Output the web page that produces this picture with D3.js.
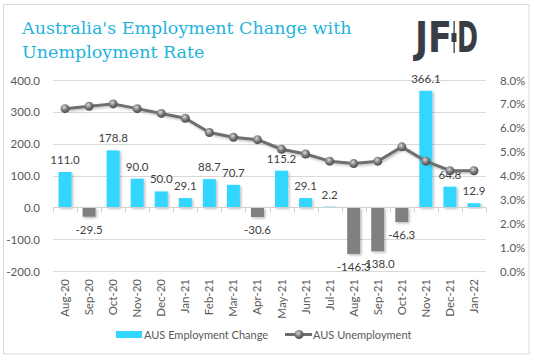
<!DOCTYPE html>
<html>
<head>
<meta charset="utf-8">
<script src="https://cdn.jsdelivr.net/npm/d3@7"></script>
<style>
  body { margin: 0; background: #fff; }
  svg { display: block; }
  text { font-family: Lato, "Open Sans", sans-serif; }
</style>
</head>
<body>
<svg id="chart" width="534" height="360"></svg>
<script>
// data
var months = ["Aug-20","Sep-20","Oct-20","Nov-20","Dec-20","Jan-21","Feb-21","Mar-21","Apr-21",
  "May-21","Jun-21","Jul-21","Aug-21","Sep-21","Oct-21","Nov-21","Dec-21","Jan-22"];
var employment = [111.0,-29.5,178.8,90.0,50.0,29.1,88.7,70.7,-30.6,115.2,29.1,2.2,-146.3,-138.0,-46.3,366.1,64.8,12.9];
var unemployment = [6.8,6.9,7.0,6.8,6.6,6.4,5.8,5.6,5.5,5.1,4.9,4.6,4.5,4.6,5.2,4.6,4.2,4.2];
var leftTicks = [-200,-100,0,100,200,300,400];
var rightTicks = [0,1,2,3,4,5,6,7,8];

var svg = d3.select("#chart");

var margin = {left: 53, right: 48, top: 80, bottom: 89};
var W = 534, H = 360;

// plain hyphen for negatives, like the source
var fmt = d3.formatLocale({decimal: ".", thousands: ",", grouping: [3], currency: ["", ""], minus: "-"}).format(".1f");

var x = d3.scaleBand()
    .domain(months)
    .range([margin.left, W - margin.right])
    .paddingInner(0.46)
    .paddingOuter(0.23);

var y = d3.scaleLinear().domain([-200, 400]).range([H - margin.bottom, margin.top]);
var y2 = d3.scaleLinear().domain([0, 8]).range([H - margin.bottom, margin.top]);

var defs = svg.append("defs");
var f = defs.append("filter").attr("id", "shadow").attr("x", "-30%").attr("y", "-30%").attr("width", "160%").attr("height", "160%");
f.append("feDropShadow").attr("dx", 1.5).attr("dy", 1.5).attr("stdDeviation", 1)
  .attr("flood-color", "#000").attr("flood-opacity", 0.25);

var g = defs.append("radialGradient").attr("id", "ball").attr("cx", "40%").attr("cy", "35%").attr("r", "65%");
g.append("stop").attr("offset", "0%").attr("stop-color", "#d8d8d8");
g.append("stop").attr("offset", "55%").attr("stop-color", "#7a7a7a");
g.append("stop").attr("offset", "100%").attr("stop-color", "#4a4a4a");

// frame
svg.append("rect")
    .attr("x", 3.5).attr("y", 4.5).attr("width", 525.5).attr("height", 349.5)
    .attr("fill", "#fff").attr("stroke", "#d9d9d9");

// title
var title = svg.append("text")
    .style("font-family", "'DejaVu Serif', serif")
    .style("font-size", "17.5px")
    .attr("fill", "#1fb4dc");
title.append("tspan").attr("x", 22).attr("y", 34).text("Australia's Employment Change with");
title.append("tspan").attr("x", 22).attr("y", 58).text("Unemployment Rate");

// logo
var logo = svg.append("g").attr("fill", "#383d45");
logo.append("text").attr("x", 415).attr("y", 52)
    .style("font-family", "'DejaVu Sans', sans-serif").style("font-weight", "bold")
    .style("font-size", "42px").attr("textLength", 37).attr("lengthAdjust", "spacingAndGlyphs")
    .text("JF");
logo.append("text").attr("x", 457).attr("y", 52)
    .style("font-family", "'DejaVu Sans', sans-serif").style("font-weight", "bold")
    .style("font-size", "42px").attr("textLength", 21).attr("lengthAdjust", "spacingAndGlyphs")
    .text("D");
logo.append("rect").attr("x", 453.5).attr("y", 21).attr("width", 1.3).attr("height", 32);
logo.append("rect").attr("x", 451.5).attr("y", 33).attr("width", 5).attr("height", 9);

// gridlines
svg.append("g").selectAll("line")
  .data(leftTicks)
  .join("line")
    .attr("x1", margin.left).attr("x2", W - margin.right)
    .attr("y1", d => Math.round(y(d)) + 0.5).attr("y2", d => Math.round(y(d)) + 0.5)
    .attr("stroke", "#d9d9d9");

// left axis
var yAxis = svg.append("g")
    .attr("transform", "translate(" + (margin.left - 10) + ",0)")
    .call(d3.axisLeft(y).tickValues(leftTicks).tickFormat(fmt).tickSize(0));
yAxis.select(".domain").remove();
yAxis.selectAll("text").style("font-size", "11.5px").style("font-family", "Lato, sans-serif").attr("fill", "#595959").attr("dy", "0.35em");

// right axis
var y2Axis = svg.append("g")
    .attr("transform", "translate(" + (W - margin.right + 11) + ",0)")
    .call(d3.axisRight(y2).tickValues(rightTicks).tickFormat(d => fmt(d) + "%").tickSize(0));
y2Axis.select(".domain").remove();
y2Axis.selectAll("text").style("font-size", "11.5px").style("font-family", "Lato, sans-serif").attr("fill", "#595959").attr("dy", "0.35em");

// bars
svg.append("g").selectAll("rect")
  .data(employment)
  .join("rect")
    .attr("x", (d, i) => x(months[i]))
    .attr("width", x.bandwidth())
    .attr("y", d => y(Math.max(0, d)))
    .attr("height", d => Math.abs(y(d) - y(0)))
    .attr("fill", d => d < 0 ? "#808080" : "#33d6fe")
    .attr("filter", "url(#shadow)");

// zero line with category ticks
var zy = Math.round(y(0)) + 0.5;
svg.append("line")
    .attr("x1", margin.left).attr("x2", W - margin.right)
    .attr("y1", zy).attr("y2", zy).attr("stroke", "#d0d0d0");
var step = x.step();
svg.append("g").selectAll("line")
  .data(d3.range(months.length + 1))
  .join("line")
    .attr("x1", i => Math.round(margin.left + i * step) + 0.5)
    .attr("x2", i => Math.round(margin.left + i * step) + 0.5)
    .attr("y1", zy).attr("y2", zy + 5)
    .attr("stroke", "#d0d0d0");

// bar labels
svg.append("g").selectAll("text")
  .data(employment)
  .join("text")
    .attr("x", (d, i) => x(months[i]) + x.bandwidth() / 2)
    .attr("y", d => d < 0 ? y(d) + 17 : y(d) - 8)
    .attr("text-anchor", "middle")
    .style("font-size", "11.5px")
    .attr("fill", "#404040")
    .text(d => fmt(d));

// x labels
svg.append("g").selectAll("text")
  .data(months)
  .join("text")
    .attr("transform", d => "translate(" + (x(d) + x.bandwidth() / 2 + 4) + "," + 279 + ") rotate(-90)")
    .attr("text-anchor", "end")
    .style("font-size", "11.5px")
    .attr("fill", "#595959")
    .text(d => d);

// unemployment line
var line = d3.line()
    .x((d, i) => x(months[i]) + x.bandwidth() / 2)
    .y(d => y2(d));

svg.append("path")
    .datum(unemployment)
    .attr("d", line)
    .attr("fill", "none")
    .attr("stroke", "#6e6e6e")
    .attr("stroke-width", 3)
    .attr("stroke-linejoin", "round")
    .attr("filter", "url(#shadow)");

svg.append("g").selectAll("circle")
  .data(unemployment)
  .join("circle")
    .attr("cx", (d, i) => x(months[i]) + x.bandwidth() / 2)
    .attr("cy", d => y2(d))
    .attr("r", 4.5)
    .attr("fill", "url(#ball)");

// legend
var lg = svg.append("g");
lg.append("rect").attr("x", 116).attr("y", 331).attr("width", 26).attr("height", 7).attr("fill", "#33d6fe");
lg.append("text").attr("x", 144).attr("y", 339).style("font-size", "11px").attr("fill", "#595959")
    .text("AUS Employment Change");
lg.append("line").attr("x1", 285).attr("x2", 312).attr("y1", 334.5).attr("y2", 334.5)
    .attr("stroke", "#6e6e6e").attr("stroke-width", 3);
lg.append("circle").attr("cx", 299).attr("cy", 334.5).attr("r", 4.5).attr("fill", "url(#ball)");
lg.append("text").attr("x", 313).attr("y", 339).style("font-size", "11px").attr("fill", "#595959")
    .text("AUS Unemployment");
</script>
</body>
</html>
